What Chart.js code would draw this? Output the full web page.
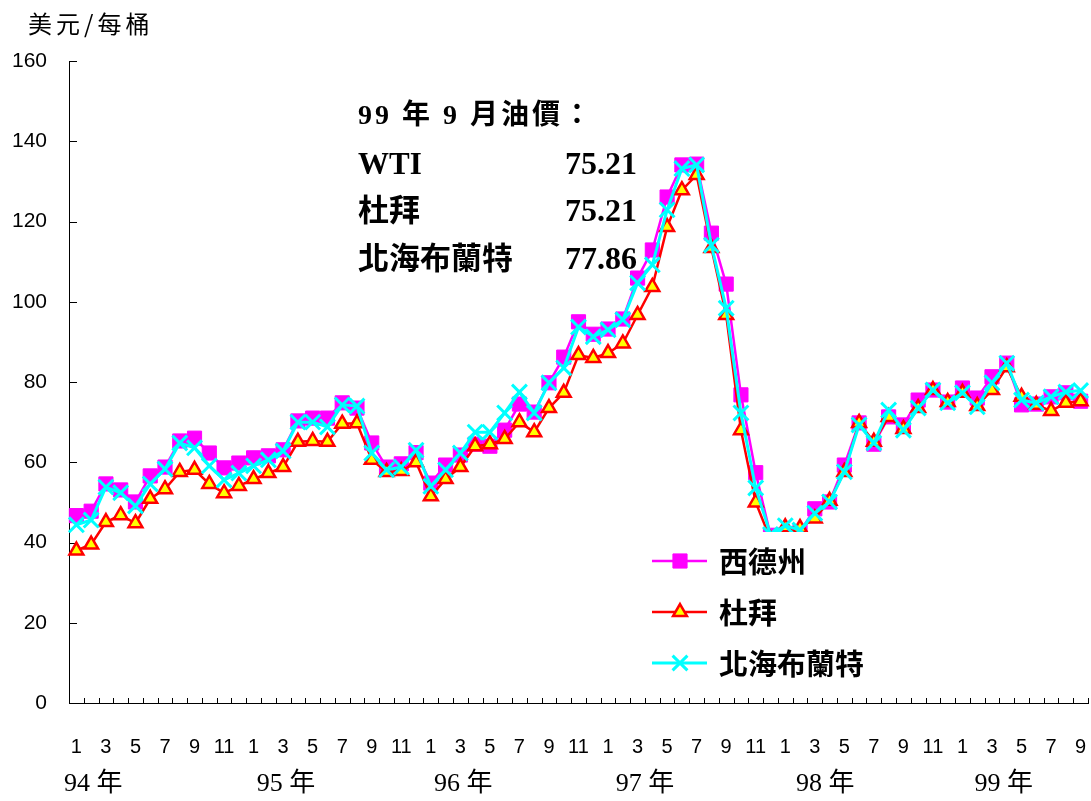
<!DOCTYPE html>
<html>
<head>
<meta charset="utf-8">
<script src="https://cdn.jsdelivr.net/npm/chart.js@4/dist/chart.umd.min.js"></script>
<style>
  html, body { margin: 0; padding: 0; background: #fff; overflow: hidden; }
  canvas { display: block; }
</style>
</head>
<body>
<canvas id="grafico" width="1091" height="801"></canvas>
<script>
// --- dados ---
const anos = ['94 年', '95 年', '96 年', '97 年', '98 年', '99 年'];
const meses = [];
for (let a = 0; a < anos.length; a++) {
    for (let m = 1; m <= 12; m++) {
        if (a === anos.length - 1 && m > 9) break;
        meses.push(m);
    }
}

const wti = [46.7, 47.8, 54.6, 53.1, 50.1, 56.6, 58.8, 65.3, 66.0, 62.3, 58.6, 59.8,
             61.1, 61.6, 63.1, 70.3, 71.0, 71.0, 74.8, 73.5, 64.8, 58.8, 59.6, 62.4,
             54.8, 59.3, 61.8, 64.5, 64.0, 68.0, 74.5, 72.5, 79.8, 86.2, 95.0, 91.9,
             93.2, 95.7, 105.9, 112.9, 126.1, 134.1, 134.3, 117.1, 104.4, 76.8, 57.4, 41.8,
             41.9, 42.7, 48.4, 50.1, 59.3, 69.8, 64.5, 71.3, 69.3, 75.5, 78.0, 75.0,
             78.5, 76.0, 81.3, 84.7, 74.3, 74.5, 76.3, 77.3, 75.21];

const dubai = [38.0, 39.5, 45.1, 46.8, 44.8, 50.9, 53.3, 57.6, 58.1, 54.6, 52.3, 54.1,
               55.8, 57.3, 58.8, 65.1, 65.3, 65.1, 69.6, 69.7, 60.6, 57.6, 57.8, 60.0,
               51.5, 55.8, 58.8, 64.0, 64.5, 65.8, 70.0, 67.5, 73.5, 77.3, 86.7, 86.0,
               87.2, 89.6, 96.7, 103.7, 118.6, 127.8, 131.6, 113.4, 96.7, 68.0, 50.0, 40.8,
               43.8, 43.6, 46.0, 50.4, 57.6, 69.8, 65.1, 71.3, 68.3, 73.5, 78.0, 75.0,
               77.3, 74.0, 78.0, 83.7, 76.3, 74.3, 72.8, 74.8, 75.21];

const brent = [44.4, 45.6, 53.8, 52.4, 49.1, 54.6, 58.3, 64.8, 63.6, 59.1, 55.6, 57.3,
               59.1, 60.6, 62.8, 70.0, 70.0, 68.8, 74.3, 74.0, 62.3, 58.1, 58.8, 63.0,
               54.0, 58.1, 62.3, 67.5, 67.5, 72.3, 77.5, 72.3, 79.8, 83.5, 93.7, 91.3,
               93.0, 95.5, 104.7, 109.2, 122.9, 133.2, 134.1, 114.1, 98.4, 72.3, 53.6, 42.0,
               44.2, 43.1, 47.3, 50.1, 57.6, 69.3, 64.8, 73.0, 68.0, 73.5, 78.0, 74.8,
               77.3, 73.8, 79.8, 84.7, 75.5, 74.8, 76.3, 77.5, 77.86];

const nomes = ['西德州', '杜拜', '北海布蘭特'];
const unidade = '美元/每桶';
const notaTitulo = '99 年 9 月油價：';
const notaLinhas = [['WTI', '75.21'], ['杜拜', '75.21'], ['北海布蘭特', '77.86']];

// --- plugins ---
const tracinhos = {
    id: 'tracinhos',
    beforeDatasetsDraw(chart) {
        const ctx = chart.ctx, x = chart.scales.x, y = chart.scales.y;
        const area = chart.chartArea;
        ctx.save();
        ctx.strokeStyle = '#000';
        ctx.lineWidth = 1;
        ctx.beginPath();
        for (let v = 20; v <= 160; v += 20) {
            const py = Math.round(y.getPixelForValue(v)) + 0.5;
            ctx.moveTo(area.left, py);
            ctx.lineTo(area.left + 8, py);
        }
        for (let k = 0; k <= meses.length; k++) {
            const px = Math.round(x.getPixelForValue(k - 0.5)) + 0.5;
            ctx.moveTo(px, area.bottom);
            ctx.lineTo(px, area.bottom - 5);
        }
        ctx.stroke();
        ctx.restore();
    }
};

const legenda = {
    id: 'legenda',
    afterDatasetsDraw(chart) {
        const ctx = chart.ctx;
        ctx.save();
        ctx.fillStyle = '#fff';
        ctx.fillRect(640, 532, 260, 160);
        const linhasY = [561, 612, 663];
        chart.data.datasets.forEach((ds, i) => {
            const yy = linhasY[i];
            ctx.strokeStyle = ds.borderColor;
            ctx.lineWidth = ds.borderWidth;
            ctx.beginPath();
            ctx.moveTo(652, yy);
            ctx.lineTo(707, yy);
            ctx.stroke();
            ctx.fillStyle = ds.pointBackgroundColor;
            ctx.strokeStyle = ds.pointBorderColor;
            ctx.lineWidth = ds.pointBorderWidth;
            Chart.helpers.drawPoint(ctx, {
                pointStyle: ds.pointStyle, radius: ds.pointRadius,
                rotation: 0, borderWidth: ds.pointBorderWidth
            }, 680, yy);
            ctx.fillStyle = '#000';
            ctx.font = 'bold 29px "Noto Sans CJK TC"';
            ctx.textAlign = 'left';
            ctx.textBaseline = 'middle';
            ctx.fillText(ds.label, 719, yy + 1);
        });
        ctx.restore();
    }
};

const textos = {
    id: 'textos',
    afterDraw(chart) {
        const ctx = chart.ctx, x = chart.scales.x;
        ctx.save();
        ctx.fillStyle = '#000';
        ctx.textBaseline = 'middle';

        ctx.font = '24px "Noto Sans CJK TC"';
        ctx.textAlign = 'left';
        ctx.letterSpacing = '4px';
        ctx.fillText(unidade, 28, 24);

        ctx.font = 'bold 28px "Liberation Serif", "Noto Sans CJK TC"';
        ctx.letterSpacing = '3px';
        ctx.fillText(notaTitulo, 358, 117);
        ctx.letterSpacing = '0px';
        const ys = [166, 213, 261];
        notaLinhas.forEach((l, i) => {
            ctx.font = 'bold 31px "Liberation Serif", "Noto Sans CJK TC"';
            ctx.textAlign = 'left';
            ctx.fillText(l[0], 358, ys[i]);
            ctx.font = 'bold 32px "Liberation Serif"';
            ctx.textAlign = 'right';
            ctx.fillText(l[1], 637, ys[i]);
        });

        ctx.font = '26px "Liberation Serif", "Noto Sans CJK TC"';
        ctx.textAlign = 'center';
        const posAno = [1.15, 14.2, 26.2, 38.5, 50.7, 62.8];
        anos.forEach((a, i) => {
            ctx.fillText(a, x.getPixelForValue(posAno[i]), 784);
        });
        ctx.restore();
    }
};

// --- gráfico ---
const ctx = document.getElementById('grafico').getContext('2d');
new Chart(ctx, {
    type: 'line',
    data: {
        labels: meses.map(String),
        datasets: [{
            label: nomes[0],
            data: wti,
            borderColor: '#FF00FF',
            borderWidth: 2.5,
            pointStyle: 'rect',
            pointRadius: 10,
            pointBackgroundColor: '#FF00FF',
            pointBorderColor: '#FF00FF',
            pointBorderWidth: 1,
            order: 3
        }, {
            label: nomes[1],
            data: dubai,
            borderColor: '#FF0000',
            borderWidth: 2.5,
            pointStyle: 'triangle',
            pointRadius: 8,
            pointBackgroundColor: '#FFFF00',
            pointBorderColor: '#FF0000',
            pointBorderWidth: 2.5,
            order: 2
        }, {
            label: nomes[2],
            data: brent,
            borderColor: '#00FFFF',
            borderWidth: 3,
            pointStyle: 'crossRot',
            pointRadius: 10.5,
            pointBackgroundColor: '#00FFFF',
            pointBorderColor: '#00FFFF',
            pointBorderWidth: 3,
            order: 1
        }]
    },
    options: {
        responsive: false,
        animation: false,
        devicePixelRatio: 1,
        layout: { autoPadding: false, padding: { top: 61, right: 3, left: 0, bottom: 0 } },
        plugins: { legend: { display: false }, tooltip: { enabled: false } },
        scales: {
            x: {
                offset: true,
                afterFit(s) { s.height = 98; s.paddingLeft = 0; s.paddingRight = 0; },
                grid: { display: true, drawOnChartArea: false, drawTicks: false },
                border: { display: true, color: '#000', width: 1 },
                ticks: {
                    autoSkip: false, maxRotation: 0, minRotation: 0,
                    padding: 32, color: '#000',
                    font: { family: '"Liberation Sans"', size: 20 },
                    callback: (v, i) => (meses[i] % 2 === 1 ? String(meses[i]) : '')
                }
            },
            y: {
                min: 0, max: 160,
                afterFit(s) { s.width = 69; s.paddingTop = 0; s.paddingBottom = 0; },
                grid: { display: true, drawOnChartArea: false, drawTicks: false },
                border: { display: true, color: '#000', width: 1 },
                ticks: {
                    stepSize: 20, padding: 22, color: '#000',
                    font: { family: '"Liberation Sans"', size: 21 }
                }
            }
        }
    },
    plugins: [tracinhos, legenda, textos]
});
</script>
</body>
</html>
